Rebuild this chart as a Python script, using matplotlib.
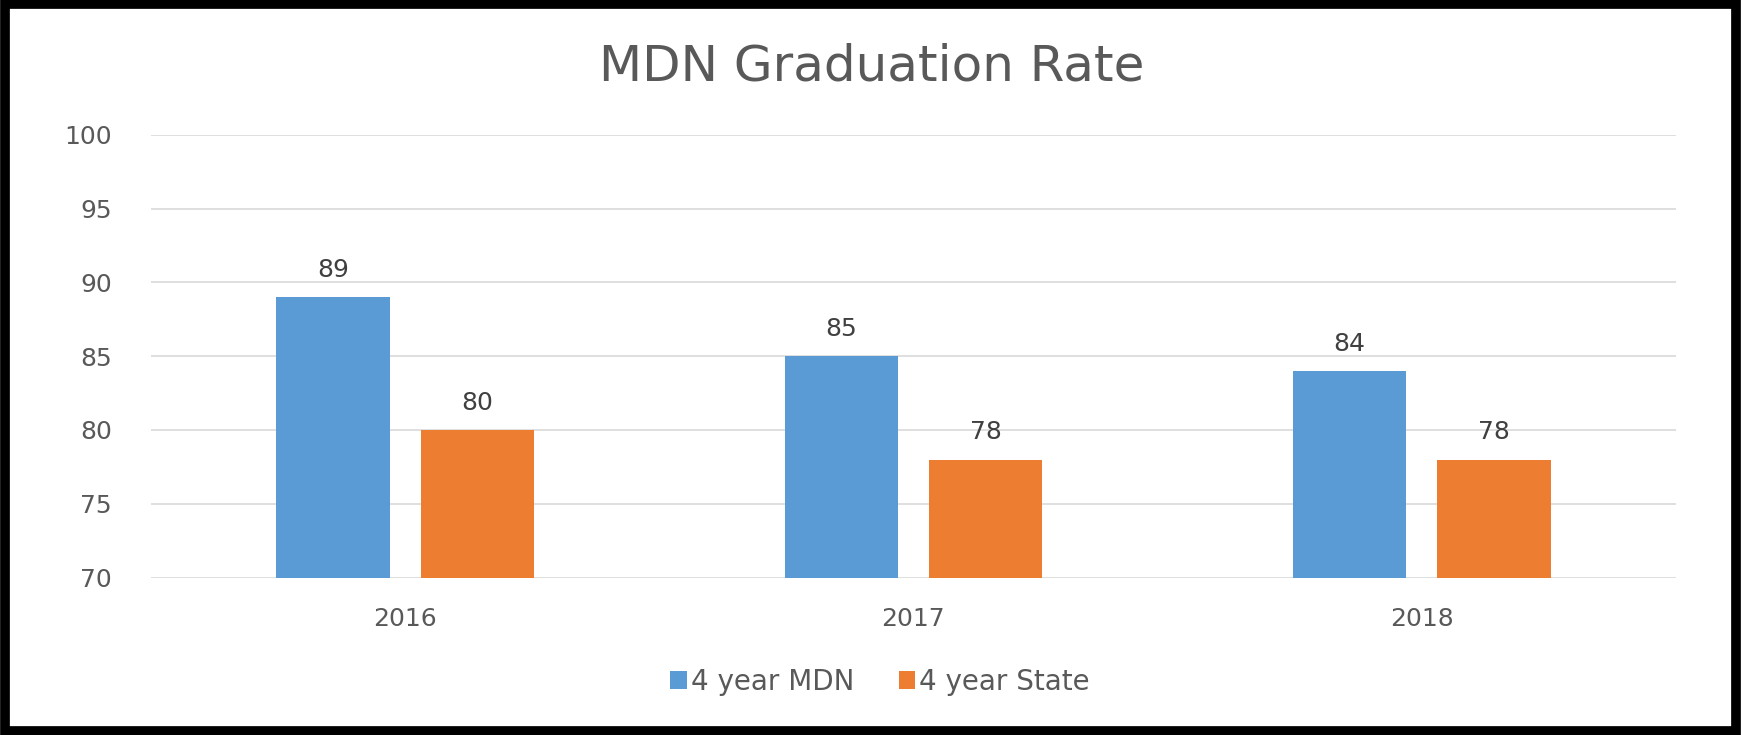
import numpy as np
import matplotlib.pyplot as plt
from matplotlib.patches import Rectangle

years = ["2016", "2017", "2018"]
mdn = [89, 85, 84]
state = [80, 78, 78]
series_names = ["4 year MDN", "4 year State"]

blue = "#5B9BD5"
orange = "#ED7D31"
txt = "#595959"

fig = plt.figure(figsize=(17.45, 7.35), dpi=100)
ax = fig.add_axes([0.0865, 0.2141, 0.8739, 0.6026])

x = np.arange(len(years))
w = 0.223
off = 0.142
b1 = ax.bar(x - off, mdn, w, color=blue, label=series_names[0], zorder=3)
b2 = ax.bar(x + off, state, w, color=orange, label=series_names[1], zorder=3)

# value labels above bars
for bars in (b1, b2):
    for r in bars:
        ax.annotate("%d" % r.get_height(), (r.get_x() + r.get_width() / 2, r.get_height()),
                    xytext=(0, 11), textcoords="offset points", ha="center", va="bottom",
                    fontsize=18, color="#404040")

ax.set_xlim(-0.5, 2.5)
ax.set_ylim(70, 100)
ax.set_yticks(np.arange(70, 101, 5))
ax.set_xticks(x)
ax.set_xticklabels(years)
ax.tick_params(axis="y", length=0, pad=28, labelsize=18, labelcolor=txt)
ax.tick_params(axis="x", length=0, pad=21, labelsize=18, labelcolor=txt)
ax.grid(axis="y", color="#D9D9D9", linewidth=1.2, zorder=0)
for s in ax.spines.values():
    s.set_visible(False)

fig.text(0.4997, 0.91, "MDN Graduation Rate", ha="center", va="center", fontsize=36, color=txt)

fig.legend(loc="center", bbox_to_anchor=(880 / 1745, 1 - 682 / 735), ncol=2, frameon=False,
           fontsize=20, labelcolor=txt, handlelength=0.6, handleheight=0.6,
           handletextpad=0.15, columnspacing=1.6)

# black frame
fig.patches.append(Rectangle((0.0026, 0.006), 0.9925, 0.988, transform=fig.transFigure,
                             fill=False, edgecolor="black", linewidth=7))

fig.savefig("out.png", dpi=100)
